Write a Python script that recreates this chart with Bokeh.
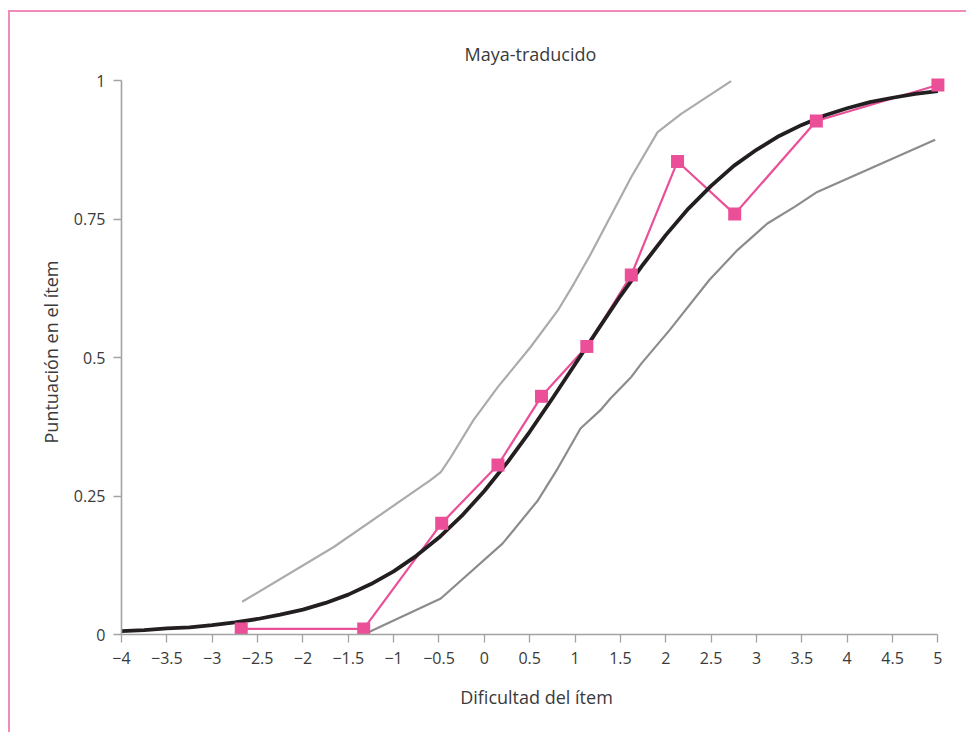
from bokeh.plotting import figure
from bokeh.models import Range1d, FixedTicker, InlineStyleSheet
from bokeh.embed import file_html
from bokeh.resources import INLINE

# ---- data -------------------------------------------------------------
title_text = "Maya-traducido"
x_label = "Dificultad del ítem"
y_label = "Puntuación en el ítem"

x_ticks = [-4, -3.5, -3, -2.5, -2, -1.5, -1, -0.5, 0, 0.5, 1, 1.5, 2, 2.5, 3, 3.5, 4, 4.5, 5]
x_tick_labels = ["−4", "−3.5", "−3", "−2.5", "−2", "−1.5", "−1", "−0.5", "0", "0.5",
                 "1", "1.5", "2", "2.5", "3", "3.5", "4", "4.5", "5"]
y_ticks = [0, 0.25, 0.5, 0.75, 1]
y_tick_labels = ["0", "0.25", "0.5", "0.75", "1"]

# observed item score (pink squares)
obs_x = [-2.68, -1.33, -0.47, 0.15, 0.63, 1.13, 1.62, 2.13, 2.76, 3.66, 5.0]
obs_y = [0.01, 0.01, 0.201, 0.306, 0.430, 0.520, 0.649, 0.854, 0.759, 0.927, 0.992]

# model curve (black)
icc_x = [-4, -3.75, -3.5, -3.25, -3, -2.75, -2.5, -2.25, -2, -1.75, -1.5, -1.25, -1,
         -0.75, -0.5, -0.25, 0, 0.25, 0.5, 0.75, 1, 1.25, 1.5, 1.75, 2, 2.25, 2.5,
         2.75, 3, 3.25, 3.5, 3.75, 4, 4.25, 4.5, 4.75, 5]
icc_y = [0.006, 0.008, 0.011, 0.013, 0.017, 0.022, 0.028, 0.036, 0.045, 0.057, 0.072,
         0.091, 0.114, 0.142, 0.175, 0.214, 0.259, 0.310, 0.366, 0.426, 0.488, 0.550,
         0.611, 0.668, 0.721, 0.769, 0.810, 0.846, 0.875, 0.900, 0.920, 0.937, 0.950,
         0.961, 0.969, 0.976, 0.981]

# upper band (light grey)
upper_x = [-2.67, -1.66, -0.59, -0.48, -0.37, -0.12, 0.15, 0.51, 0.81, 0.99, 1.17,
           1.62, 1.91, 2.17, 2.72]
upper_y = [0.059, 0.158, 0.279, 0.293, 0.320, 0.387, 0.447, 0.519, 0.585, 0.634, 0.686,
           0.826, 0.907, 0.940, 0.999]

# lower band (dark grey)
lower_x = [-1.33, -0.48, 0.2, 0.59, 0.81, 1.06, 1.28, 1.39, 1.62, 1.73, 2.04, 2.48,
           2.79, 3.12, 3.42, 3.67, 4.97]
lower_y = [0.0, 0.065, 0.164, 0.242, 0.300, 0.372, 0.405, 0.426, 0.465, 0.489, 0.549,
           0.640, 0.694, 0.742, 0.772, 0.799, 0.893]

# ---- figure -----------------------------------------------------------
FONT = "Open Sans"
TXT = "#3a3a3a"
AX = "#a3a3a3"

p = figure(width=966, height=732, output_backend="svg", toolbar_location=None,
           x_range=Range1d(-4, 5.15), y_range=Range1d(0, 1.02),
           min_border_left=121, min_border_right=15, min_border_top=69,
           min_border_bottom=98, title=title_text)
p.background_fill_color = "white"
p.border_fill_color = "white"
p.outline_line_color = None
p.grid.visible = False

p.title.align = "left"
p.title.offset = 343
p.title.text_font = FONT
p.title.text_font_style = "normal"
p.title.text_font_size = "18px"
p.title.text_color = TXT
p.title.standoff = 7

for ax in (p.xaxis[0], p.yaxis[0]):
    ax.axis_line_color = AX
    ax.axis_line_width = 1.6
    ax.major_tick_line_color = AX
    ax.major_tick_line_width = 1.3
    ax.major_tick_in = 0
    ax.major_tick_out = 8
    ax.minor_tick_line_color = None
    ax.major_label_text_font = FONT
    ax.major_label_text_font_size = "16px"
    ax.major_label_text_color = TXT
    ax.axis_label_text_font = FONT
    ax.axis_label_text_font_size = "18px"
    ax.axis_label_text_font_style = "normal"
    ax.axis_label_text_color = TXT

p.xaxis[0].ticker = FixedTicker(ticks=x_ticks)
p.xaxis[0].major_label_overrides = dict(zip(x_ticks, x_tick_labels))
p.xaxis[0].bounds = (-4, 5)
p.xaxis[0].axis_label = x_label
p.xaxis[0].major_label_standoff = 9
p.xaxis[0].axis_label_standoff = 18

p.yaxis[0].ticker = FixedTicker(ticks=y_ticks)
p.yaxis[0].major_label_overrides = dict(zip(y_ticks, y_tick_labels))
p.yaxis[0].bounds = (0, 1)
p.yaxis[0].axis_label = y_label
p.yaxis[0].major_label_standoff = 8
p.yaxis[0].axis_label_standoff = 8

p.line(upper_x, upper_y, line_color="#ababab", line_width=2.2, line_join="round")
p.line(lower_x, lower_y, line_color="#8c8c8c", line_width=2.2, line_join="round")
p.line(obs_x, obs_y, line_color="#ea4f98", line_width=2.2)
p.line(icc_x, icc_y, line_color="#231f20", line_width=3.8, line_join="round")
p.scatter(obs_x, obs_y, marker="square", size=13, fill_color="#ea4f98",
          line_color="#ea4f98", line_width=0)

# pink frame of the figure box (drawn with CSS on the plot's host element)
p.stylesheets = [InlineStyleSheet(css="""
:host { position: relative; }
:host::after {
  content: '';
  position: absolute;
  left: 8px; top: 10px; right: 0; bottom: 0;
  border-left: 2px solid #f08cba;
  border-top: 2px solid #f08cba;
  pointer-events: none;
  z-index: 10;
}
""")]

open("out.html", "w").write(file_html(p, INLINE))
